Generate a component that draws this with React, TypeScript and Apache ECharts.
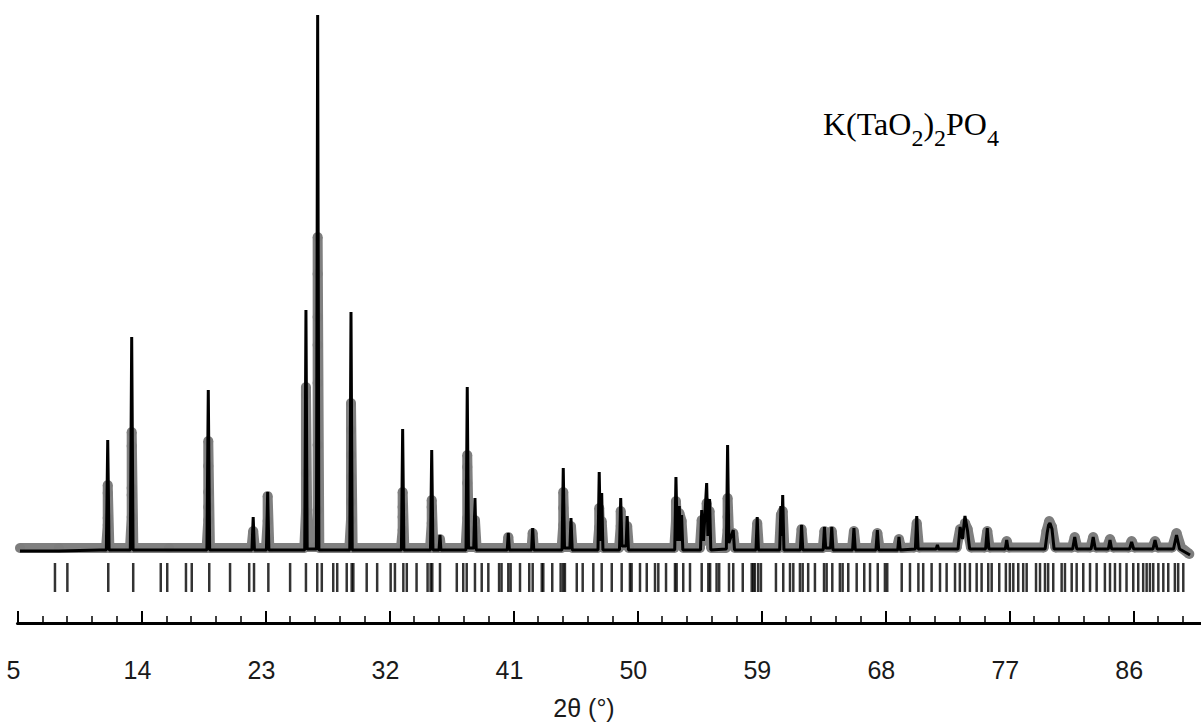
import React, { useEffect, useRef } from "react";
import * as echarts from "echarts";

// 2θ axis tick values (labels 5, 14, ... 86)
const xMin = 5;
const xMax = 95;
const xInterval = 9;

// Calculated profile: [2θ (°), intensity]
const calcProfile: [number, number][] = [
  [5.18, 0], [8.0, 0], [11.0, 1],
  [11.45, 1], [11.55, 111], [11.65, 1],
  [13.19, 1], [13.29, 214], [13.39, 1],
  [18.75, 1], [18.85, 161], [18.95, 1],
  [22.02, 1], [22.11, 34], [22.2, 1],
  [23.07, 1], [23.16, 59], [23.25, 1],
  [25.85, 1], [25.94, 241], [26.03, 2], [26.7, 2], [26.79, 536], [26.88, 1],
  [29.12, 1], [29.21, 239], [29.3, 1],
  [32.87, 1], [32.96, 122], [33.05, 1],
  [34.98, 1], [35.07, 101], [35.16, 1],
  [35.6, 1], [35.67, 16], [35.74, 1],
  [37.56, 1], [37.65, 164], [37.74, 3], [38.12, 3], [38.21, 53], [38.3, 1],
  [40.55, 1], [40.63, 18], [40.71, 1],
  [42.32, 1], [42.4, 23], [42.48, 1],
  [44.53, 1], [44.62, 83], [44.71, 3], [45.1, 3], [45.18, 33], [45.27, 1],
  [47.14, 1], [47.23, 79], [47.32, 10], [47.41, 58], [47.5, 1],
  [48.7, 1], [48.79, 53], [48.88, 5], [49.18, 5], [49.26, 35], [49.35, 1],
  [52.71, 1], [52.8, 74], [52.9, 10], [53.04, 45], [53.12, 10], [53.21, 36], [53.3, 1],
  [54.58, 1], [54.67, 41], [54.8, 10], [55.03, 68], [55.12, 15], [55.24, 52], [55.33, 1],
  [56.46, 2], [56.55, 106], [56.64, 8], [56.96, 21], [57.05, 1],
  [58.61, 1], [58.7, 34], [58.79, 1],
  [60.33, 1], [60.42, 45], [60.48, 15], [60.55, 56], [60.64, 1],
  [61.83, 1], [61.92, 26], [62.01, 1],
  [63.49, 1], [63.58, 24], [63.67, 3], [64.02, 3], [64.11, 24], [64.2, 1],
  [65.62, 1], [65.72, 23], [65.82, 1],
  [67.32, 1], [67.42, 21], [67.52, 1],
  [68.9, 1], [68.99, 14], [69.08, 1],
  [70.18, 2], [70.28, 35], [70.38, 2],
  [71.69, 2], [71.78, 6], [71.87, 2],
  [73.28, 2], [73.43, 24], [73.6, 12], [73.78, 35], [73.97, 20], [74.12, 2],
  [75.28, 2], [75.4, 23], [75.52, 2],
  [76.71, 2], [76.81, 11], [76.91, 2],
  [79.6, 2], [79.75, 18], [79.85, 26], [79.95, 28], [80.1, 22], [80.25, 2],
  [81.6, 2], [81.75, 14], [81.9, 2],
  [82.94, 2], [83.09, 14], [83.24, 2],
  [84.19, 2], [84.31, 11], [84.43, 2],
  [85.73, 2], [85.88, 9], [86.03, 2],
  [87.43, 2], [87.58, 11], [87.73, 2],
  [88.92, 2], [89.14, 16], [89.36, 2],
  [90.12, -4],
];

// Observed points: [2θ (°), intensity]
const obsProfile: [number, number][] = [
  [5.18, 3], [8.0, 3], [11.43, 3],
  [11.55, 26], [11.55, 33], [11.55, 58], [11.55, 66], [11.67, 3],
  [13.17, 3], [13.29, 34], [13.29, 56], [13.29, 63], [13.29, 105], [13.29, 119], [13.41, 3],
  [16.0, 3],
  [18.73, 3], [18.85, 31], [18.85, 44], [18.85, 59], [18.85, 85], [18.85, 110], [18.97, 3],
  [21.99, 3], [22.11, 20], [22.23, 3],
  [23.04, 3], [23.16, 30], [23.16, 55], [23.28, 3],
  [25.82, 3], [25.94, 39], [25.94, 78], [25.94, 156], [25.94, 164], [26.05, 4],
  [26.67, 4], [26.79, 41], [26.79, 106], [26.79, 168], [26.79, 206], [26.79, 234], [26.79, 277], [26.79, 314], [26.91, 3],
  [29.09, 3], [29.21, 31], [29.21, 49], [29.21, 74], [29.21, 96], [29.21, 121], [29.21, 148], [29.33, 3],
  [32.84, 3], [32.96, 21], [32.96, 34], [32.96, 44], [32.96, 59], [33.08, 3],
  [34.95, 3], [35.07, 28], [35.07, 44], [35.07, 51], [35.19, 3],
  [35.6, 3], [35.67, 12], [35.74, 3],
  [37.53, 3], [37.65, 33], [37.65, 68], [37.65, 84], [37.65, 96], [37.77, 4],
  [38.09, 4], [38.21, 21], [38.21, 31], [38.33, 3],
  [40.55, 3], [40.63, 14], [40.71, 3],
  [42.32, 3], [42.4, 18], [42.48, 3],
  [44.5, 3], [44.62, 26], [44.62, 43], [44.62, 59], [44.74, 4], [45.07, 4], [45.18, 25], [45.29, 3],
  [47.11, 3], [47.23, 24], [47.23, 43], [47.32, 12], [47.41, 30], [47.53, 3],
  [48.67, 3], [48.79, 25], [48.79, 40], [48.91, 6], [49.15, 6], [49.26, 25], [49.38, 3],
  [52.68, 3], [52.8, 30], [52.8, 50], [52.92, 10], [53.04, 38], [53.21, 30], [53.34, 3],
  [54.54, 3], [54.67, 31], [54.84, 10], [55.03, 31], [55.03, 48], [55.14, 15], [55.24, 40], [55.36, 3],
  [56.43, 3], [56.55, 21], [56.55, 34], [56.55, 53], [56.68, 8], [56.96, 18], [57.08, 3],
  [58.58, 3], [58.7, 28], [58.82, 3],
  [60.3, 3], [60.42, 36], [60.55, 40], [60.67, 3],
  [61.8, 3], [61.92, 22], [62.04, 3],
  [63.46, 3], [63.58, 20], [63.71, 4], [64.01, 4], [64.11, 20], [64.23, 3],
  [65.58, 3], [65.72, 20], [65.86, 3],
  [67.25, 3], [67.42, 18], [67.58, 3],
  [68.84, 3], [68.99, 12], [69.14, 3],
  [70.09, 3.5], [70.28, 28], [70.44, 3.5],
  [73.18, 3.5], [73.43, 22], [73.67, 18], [73.78, 28], [73.97, 22], [74.22, 3.5],
  [75.22, 3.5], [75.4, 20], [75.57, 3.5],
  [76.66, 3.5], [76.81, 10], [76.96, 3.5],
  [79.5, 3.5], [79.7, 20], [79.9, 30], [80.1, 24], [80.35, 3.5],
  [81.55, 3.5], [81.75, 14], [81.95, 3.5],
  [82.89, 3.5], [83.09, 14], [83.29, 3.5],
  [84.09, 3.5], [84.31, 12], [84.54, 3.5],
  [85.68, 3.5], [85.88, 10], [86.08, 3.5],
  [87.38, 3.5], [87.58, 10], [87.78, 3.5],
  [88.82, 3.5], [89.14, 18], [89.47, 3.5],
  [90.07, -3],
];

// Bragg reflection positions (2θ, °)
const braggPositions: number[] = [
  7.72, 8.62, 11.59, 13.4, 15.4, 15.87, 17.23, 17.65, 18.92, 20.43, 21.82, 22.17, 23.21, 24.79,
  25.94, 26.76, 27.09, 27.92, 28.21, 28.9, 29.26, 29.38, 30.35, 31.11, 32.09, 32.4, 33.01, 33.26,
  33.97, 34.77, 34.99, 35.11, 35.67, 36.89, 37.36, 37.61, 38.21, 38.7, 39.18, 39.96, 40.14, 40.63,
  40.8, 41.48, 42.15, 42.4, 43.06, 43.17, 43.82, 44.43, 44.62, 44.74, 45.6, 46.03, 46.8,
  47.41, 48.14, 48.86, 49.46, 49.58, 50.19, 50.68, 51.28, 51.52, 52.08, 52.73, 52.85, 53.33, 53.82,
  54.67, 55.15, 55.28, 55.75, 55.94, 56.65, 56.96, 57.65, 58.3, 58.42, 58.53, 58.77, 58.97, 60.06,
  60.59, 61.08, 61.32, 61.8, 62.0, 62.4, 62.89, 63.55, 63.74, 64.15, 64.7, 64.9, 65.31, 65.92,
  66.47, 66.89, 67.45, 67.97, 68.14,
  69.19, 69.79, 70.4, 70.75, 71.36, 71.97, 72.45, 73.06, 73.41, 73.78, 74.14, 74.63, 74.99, 75.47,
  75.72, 76.27, 76.75, 77.04, 77.29, 77.65, 78.01, 78.26, 78.94, 79.23, 79.59, 79.82, 80.19, 80.8,
  81.04, 81.53, 81.89, 82.37, 82.86, 83.34, 83.94, 84.31, 84.67, 85.04, 85.51, 86.0, 86.36, 86.72,
  86.97, 87.21, 87.45, 87.82, 88.18, 88.54, 89.02, 89.26, 89.63,
];

const braggRowLevel = -26.5;
const titleText = "{n|K(TaO}{s|2}{n|)}{s|2}{n|PO}{s|4}";
const axisName = "2θ (°)";

export default function App() {
  const ref = useRef<HTMLDivElement>(null);

  useEffect(() => {
    if (!ref.current) return;
    const chart = echarts.init(ref.current, null, { renderer: "svg" });
    const serif = "Liberation Serif, Times New Roman, serif";
    chart.setOption({
      animation: false,
      backgroundColor: "#ffffff",
      grid: {
        left: 17.5,
        top: 0,
        width: 1239.75,
        height: 623,
        containLabel: false,
        outerBoundsMode: "none",
      },
      xAxis: {
        type: "value",
        min: xMin,
        max: xMax,
        interval: xInterval,
        axisLine: { show: true, onZero: false, lineStyle: { color: "#000", width: 3 } },
        axisTick: { show: true, inside: true, length: 12, lineStyle: { color: "#000", width: 2 } },
        minorTick: { show: true, splitNumber: 5, length: 7, lineStyle: { color: "#000", width: 1.5 } },
        splitLine: { show: false },
        axisLabel: {
          show: true,
          margin: 34,
          color: "#1a1a1a",
          fontSize: 25,
          fontFamily: "Liberation Sans, Arial, sans-serif",
          padding: [0, 8, 0, 0],
          showMaxLabel: false,
        },
      },
      yAxis: {
        type: "value",
        min: -72,
        max: 551,
        show: false,
      },
      graphic: [
        {
          type: "text",
          left: 823,
          top: 108,
          style: {
            text: titleText,
            fill: "#000",
            rich: {
              n: { fontSize: 32, fontFamily: serif, height: 31, lineHeight: 58, verticalAlign: "top", fill: "#000" },
              s: { fontSize: 24, fontFamily: serif, height: 58, lineHeight: 58, verticalAlign: "top", fill: "#000" },
            },
          },
        },
        {
          type: "text",
          x: 584,
          y: 708,
          style: {
            text: axisName,
            fill: "#1a1a1a",
            fontSize: 25,
            fontFamily: "Liberation Sans, Arial, sans-serif",
            align: "center",
            verticalAlign: "middle",
          },
        },
      ],
      series: [
        {
          type: "line",
          name: "observed",
          data: obsProfile,
          showSymbol: true,
          symbol: "circle",
          symbolSize: 10,
          itemStyle: { color: "#7d7d7d" },
          lineStyle: { color: "#808080", width: 10 },
          z: 1,
        },
        {
          type: "line",
          name: "calculated",
          data: calcProfile,
          showSymbol: false,
          lineStyle: { color: "#000", width: 3 },
          z: 3,
        },
        {
          type: "scatter",
          name: "bragg",
          data: braggPositions.map((p) => [p, braggRowLevel]),
          symbol: "rect",
          symbolSize: [2.5, 29],
          itemStyle: { color: "#000" },
          z: 2,
        },
      ],
    });
    return () => chart.dispose();
  }, []);

  return (
    <div
      ref={ref}
      style={{ position: "absolute", left: 0, top: 0, width: 1201, height: 722, background: "#fff" }}
    />
  );
}
